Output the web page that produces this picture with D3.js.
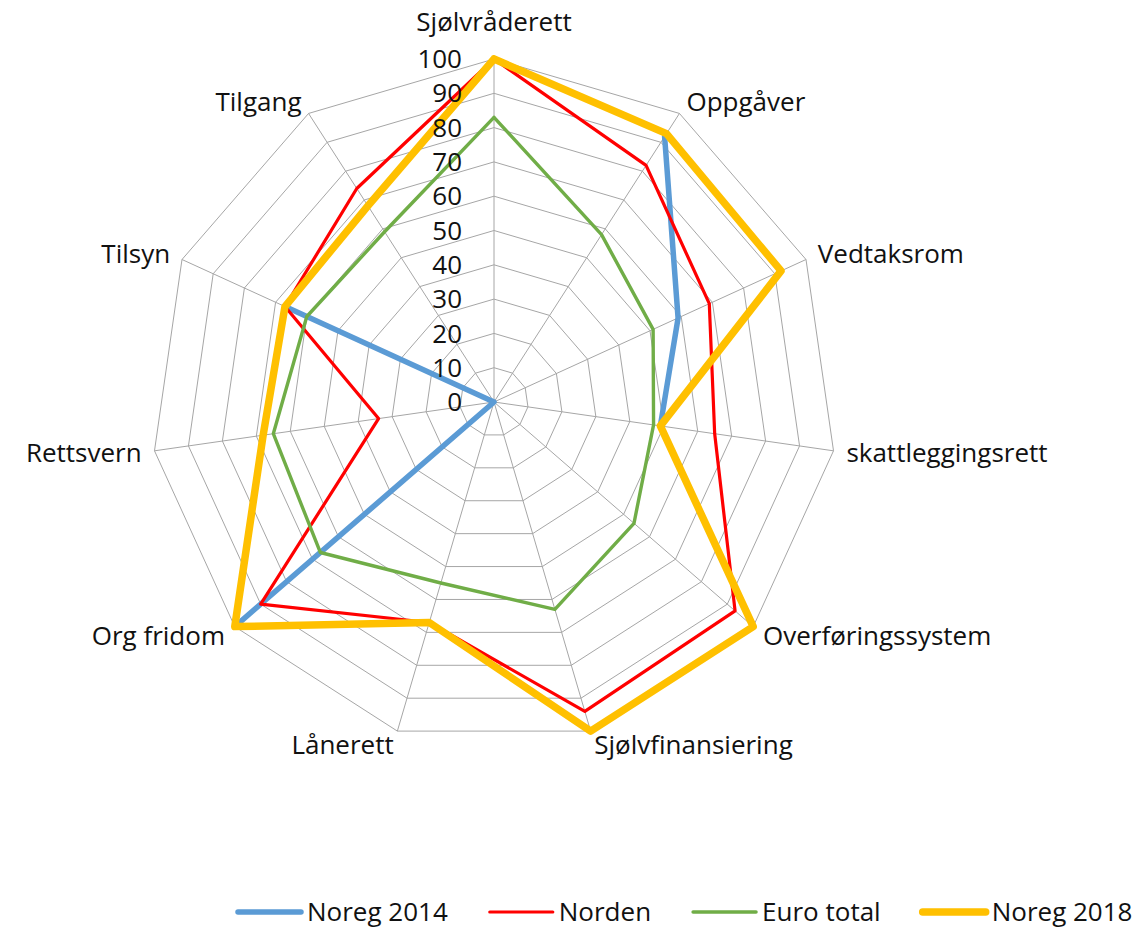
<!DOCTYPE html>
<html>
<head>
<meta charset="utf-8">
<script src="https://cdn.jsdelivr.net/npm/d3@7"></script>
<style>
  body { margin: 0; background: #fff; }
  svg text { font-family: "Open Sans", sans-serif; fill: #111; }
</style>
</head>
<body>
<svg id="chart1"></svg>
<script>
// Data
const categories = ["Sjølvråderett", "Oppgåver", "Vedtaksrom", "skattleggingsrett", "Overføringssystem",
	"Sjølvfinansiering", "Lånerett", "Org fridom", "Rettsvern", "Tilsyn", "Tilgang"];
const seriesNames = ["Noreg 2014", "Norden", "Euro total", "Noreg 2018"];
const noreg2014 = [null, 92, 59, 49, 100, 100, 67, 100, 0, 67, null];
const norden = [100, 82, 69, 65, 93, 94, 67, 90, 34, 67, 74];
const euroTotal = [83, 58, 51, 47, 54, 63, 55, 67, 65, 60, 59];
const noreg2018 = [100, 93, 92, 49, 100, 100, 67, 100, 68, 67, 68];
const tickValues = [0, 10, 20, 30, 40, 50, 60, 70, 80, 90, 100];

const seriesColors = ["#5B9BD5", "#FF0000", "#70AD47", "#FFC000"];
const seriesWidths = [5.5, 3.2, 3.4, 7.5];

// Dimensions
const width = 1143;
const height = 928;
const cx = 494;
const cy = 402;
const radius = 343;
const n = categories.length;

const rScale = d3.scaleLinear().domain([0, 100]).range([0, radius]);
const angleScale = d3.scaleLinear().domain([0, n]).range([0, 2 * Math.PI]);

function polar(i, v) {
	const a = angleScale(i);
	return [cx + rScale(v) * Math.sin(a), cy - rScale(v) * Math.cos(a)];
}

const svg = d3.select("#chart1")
	.attr("width", width)
	.attr("height", height);

// Grid
const gridColor = "#a6a6a6";
const grid = svg.append("g");

grid.selectAll("polygon.ring")
	.data(tickValues.filter(d => d > 0))
	.join("polygon")
	.attr("class", "ring")
	.attr("points", d => d3.range(n).map(i => polar(i, d).join(",")).join(" "))
	.attr("fill", "none")
	.attr("stroke", gridColor)
	.attr("stroke-width", 1);

grid.selectAll("line.spoke")
	.data(d3.range(n))
	.join("line")
	.attr("class", "spoke")
	.attr("x1", cx)
	.attr("y1", cy)
	.attr("x2", i => polar(i, 100)[0])
	.attr("y2", i => polar(i, 100)[1])
	.attr("stroke", gridColor)
	.attr("stroke-width", 1);

// Category labels
svg.selectAll("text.cat")
	.data(categories)
	.join("text")
	.attr("class", "cat")
	.attr("font-size", 26)
	.attr("x", (d, i) => polar(i, 100)[0] + 13 * Math.sin(angleScale(i)))
	.attr("y", (d, i) => polar(i, 100)[1] - 14 * Math.cos(angleScale(i)) - (i === 0 ? 23 : 0))
	.attr("dy", "0.35em")
	.attr("text-anchor", (d, i) => {
		const s = Math.sin(angleScale(i));
		return Math.abs(s) < 0.01 ? "middle" : (s > 0 ? "start" : "end");
	})
	.text(d => d);

// Series
const allSeries = [noreg2014, norden, euroTotal, noreg2018];
const line = d3.line()
	.defined(d => d.v != null)
	.x(d => polar(d.i, d.v)[0])
	.y(d => polar(d.i, d.v)[1]);

svg.selectAll("path.series")
	.data(allSeries)
	.join("path")
	.attr("class", "series")
	.attr("fill", "none")
	.attr("stroke", (d, k) => seriesColors[k])
	.attr("stroke-width", (d, k) => seriesWidths[k])
	.attr("stroke-linejoin", "round")
	.attr("stroke-linecap", "round")
	.attr("d", d => {
		const pts = d.map((v, i) => ({i: i, v: v}));
		pts.push({i: n, v: d[0]}); // close the loop
		return line(pts);
	});

// Radial axis tick labels
svg.selectAll("text.tick")
	.data(tickValues)
	.join("text")
	.attr("class", "tick")
	.attr("font-size", 26)
	.attr("text-anchor", "end")
	.attr("x", cx - 32)
	.attr("y", d => cy - rScale(d))
	.attr("dy", "0.35em")
	.text(d => d);

// Legend
const legend = svg.append("g").attr("transform", "translate(238, 912)");
let lx = 0;
seriesNames.forEach((name, k) => {
	legend.append("line")
		.attr("x1", lx)
		.attr("x2", lx + 63)
		.attr("y1", 0)
		.attr("y2", 0)
		.attr("stroke", seriesColors[k])
		.attr("stroke-width", seriesWidths[k])
		.attr("stroke-linecap", "round");
	const t = legend.append("text")
		.attr("font-size", 26)
		.attr("x", lx + 69)
		.attr("y", 0)
		.attr("dy", "0.35em")
		.text(name);
	lx += 69 + t.node().getComputedTextLength() + 42;
});
</script>
</body>
</html>
